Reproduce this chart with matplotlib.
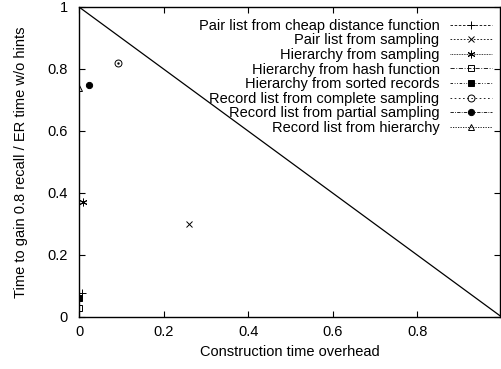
import matplotlib
matplotlib.use("Agg")
import matplotlib.pyplot as plt

plt.rcParams['font.family'] = ['Liberation Sans', 'DejaVu Sans']

# one point per method: (construction overhead, time to 0.8 recall)
labels = [
    "Pair list from cheap distance function",
    "Pair list from sampling",
    "Hierarchy from sampling",
    "Hierarchy from hash function",
    "Hierarchy from sorted records",
    "Record list from complete sampling",
    "Record list from partial sampling",
    "Record list from hierarchy",
]
overhead = [0.008, 0.26, 0.009, 0.0, 0.0, 0.093, 0.024, 0.0]
recall_time = [0.078, 0.30, 0.37, 0.03, 0.06, 0.82, 0.75, 0.74]

# break-even line
diag_x = [0, 1]
diag_y = [1, 0]

x_ticks = [0, 0.2, 0.4, 0.6, 0.8]
x_ticklabels = ["0", "0.2", "0.4", "0.6", "0.8"]
y_ticks = [0, 0.2, 0.4, 0.6, 0.8, 1]
y_ticklabels = ["0", "0.2", "0.4", "0.6", "0.8", "1"]

markers = ["+", "x", (6, 2, 0), "s", "s", "o", "o", "^"]
fills = ["full", "full", "full", "none", "full", "none", "full", "none"]
sizes = [6, 5, 5.5, 4.5, 4.5, 5, 4.5, 4.5]
styles = [(0, (3, 2)), (0, (2, 2)), (0, (1, 1)), (0, (5, 2, 1, 2)),
          (0, (3, 2, 1, 2, 1, 2)), (0, (2, 3)), (0, (4, 1.5, 1, 1.5)), (0, (1.5, 1.5))]

fig = plt.figure(figsize=(5.01, 3.69), dpi=100)
ax = fig.add_axes([79 / 501, 1 - 317 / 369, 421 / 501, 310 / 369])

ax.plot(diag_x, diag_y, color="black", lw=0.9)

for i, lab in enumerate(labels):
    ax.plot([overhead[i]], [recall_time[i]], marker=markers[i], fillstyle=fills[i],
            linestyle=styles[i], color="black", lw=0.6, ms=sizes[i], mew=0.7, label=lab)
    if i == 5:
        # dot in the circle
        ax.plot([overhead[i]], [recall_time[i]], marker=".", color="black", ms=1.5, linestyle="none")

ax.set_xlim(0, 0.996)
ax.set_ylim(0, 1)
ax.set_xticks(x_ticks)
ax.set_xticklabels(x_ticklabels)
ax.set_yticks(y_ticks)
ax.set_yticklabels(y_ticklabels)
ax.tick_params(direction="in", length=4, width=0.8, top=True, right=True,
               labelsize=10.5, pad=6)
ax.tick_params(axis="y", pad=8)
for s in ax.spines.values():
    s.set_linewidth(1.0)

ax.set_xlabel("Construction time overhead", fontsize=10.5, labelpad=4)
ax.set_ylabel("Time to gain 0.8 recall / ER time w/o hints", fontsize=10.5, labelpad=14)

leg = ax.legend(loc="upper right", bbox_to_anchor=(0.981, 0.962), frameon=False,
                markerfirst=False, numpoints=1, fontsize=10.5, handlelength=2.9,
                handletextpad=0.7, labelspacing=0.04, borderpad=0, borderaxespad=0)

fig.savefig("out.png", dpi=100)
